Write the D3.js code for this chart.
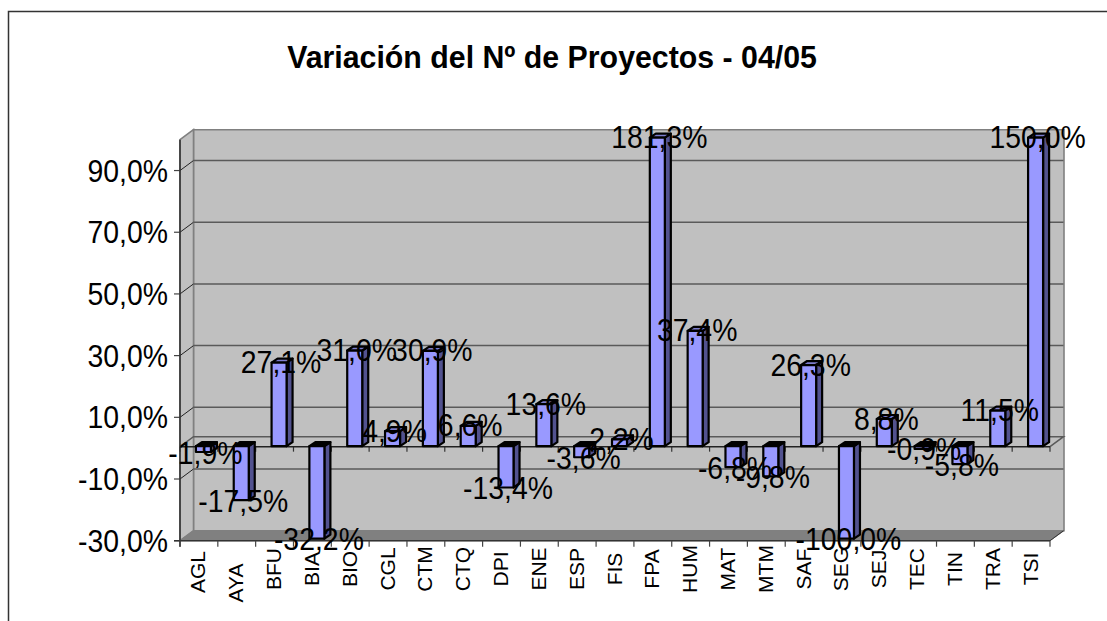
<!DOCTYPE html>
<html><head><meta charset="utf-8">
<script src="https://cdn.jsdelivr.net/npm/d3@7"></script>
<style>html,body{margin:0;padding:0;background:#fff}svg{display:block}text{font-family:"Liberation Sans",Arial,sans-serif;fill:#000}</style>
</head><body><svg id="c" width="1107" height="621"></svg>
<script>
const titleText = "Variación del Nº de Proyectos - 04/05";
const categories = ["AGL","AYA","BFU","BIA","BIO","CGL","CTM","CTQ","DPI","ENE","ESP","FIS","FPA","HUM","MAT","MTM","SAF","SEG","SEJ","TEC","TIN","TRA","TSI"];
const values = [-1.9,-17.5,27.1,-32.2,31.0,4.9,30.9,6.6,-13.4,13.6,-3.6,2.2,181.3,37.4,-6.8,-9.8,26.3,-100.0,8.8,-0.9,-5.8,11.5,150.0];
const yTicks = [-30,-10,10,30,50,70,90];
const yDomain = [-30,100];
const labelNudge = {AGL:3, AYA:14};

const svg = d3.select("#c");
const L=180,R=1050,B=540.7,T=139.7,DX=13.5,DY=10;
const x = d3.scaleBand().domain(categories).range([L,R]);
const y = d3.scaleLinear().domain(yDomain).range([B,T]);
const fmt = v => v.toFixed(1).replace(".",",")+"%";
const clamp = v => Math.max(yDomain[0],Math.min(yDomain[1],v));
const line = d3.line();
const tall=(px,py,anchor,size,sx)=>svg.append("text").attr("transform",`translate(${px},${py}) scale(${sx},1)`).attr("text-anchor",anchor).attr("font-size",size);

// frame (open on the right and bottom: it runs off the picture)
svg.append("path").attr("d","M8.5 640V11.5H1120").attr("fill","none").attr("stroke","#333").attr("stroke-width",1.5);
// title
tall(552,67.5,"middle",32,0.947).attr("font-weight","bold").text(titleText);

// walls
const poly=(pts,fill,stroke,sw)=>svg.append("path").attr("d",line(pts)+"Z").attr("fill",fill).attr("stroke",stroke||"none").attr("stroke-width",sw||0);
poly([[L+DX,T-DY],[R+DX+.5,T-DY],[R+DX+.5,B-DY],[L+DX,B-DY]],"#c0c0c0","#808080",1.6);
poly([[L,T],[L+DX,T-DY],[L+DX,B-DY],[L,B]],"#c0c0c0","#808080",1.6);
poly([[L,B],[L+DX,B-DY],[R+DX+.5,B-DY],[R,B]],"#808080","#808080",1);

// gridlines + ticks
yTicks.forEach(t=>{
  const yy=y(t);
  if(t>yDomain[0]){
    svg.append("path").attr("d",line([[L,yy],[L+DX,yy-DY]])).attr("fill","none").attr("stroke","#222").attr("stroke-width",1);
    svg.append("path").attr("d",line([[L+DX,yy-DY],[R+DX,yy-DY]])).attr("fill","none").attr("stroke","#5a5a5a").attr("stroke-width",1.5);
  }
  svg.append("line").attr("x1",L-6).attr("x2",L).attr("y1",yy).attr("y2",yy).attr("stroke","#444").attr("stroke-width",1.2);
  tall(168,yy+11,"end",31,0.916).text(fmt(t));
});
// zero plane back edge
const y0=y(0)-1.5;
svg.append("path").attr("d",line([[L,y0],[L+DX,y0-DY],[R+DX,y0-DY],[R,y0]])).attr("fill","none").attr("stroke","#5a5a5a").attr("stroke-width",1.5);

// axes
svg.append("line").attr("x1",L).attr("x2",L).attr("y1",T).attr("y2",B+6).attr("stroke","#333").attr("stroke-width",1.6);
svg.append("line").attr("x1",L-6).attr("x2",R).attr("y1",B).attr("y2",B).attr("stroke","#333").attr("stroke-width",1.5);
svg.append("path").attr("d",line([[R,B],[R+DX,B-DY]])).attr("stroke","#333").attr("fill","none");

const edge=categories.map(c=>x(c)).concat([R]);
edge.forEach(e=>{
  svg.append("line").attr("x1",e).attr("x2",e).attr("y1",B).attr("y2",B+6).attr("stroke","#444").attr("stroke-width",1.2);
  svg.append("line").attr("x1",e).attr("x2",e).attr("y1",y0).attr("y2",y0+5).attr("stroke","#333").attr("stroke-width",1.2);
});
svg.append("line").attr("x1",L).attr("x2",R).attr("y1",y0).attr("y2",y0).attr("stroke","#222").attr("stroke-width",1.5);

// bars
const bw=15,dx=6,dy=4,OFFX=-3,OFFY=-2;
const barsG=svg.append("g").attr("stroke","#000").attr("stroke-width",2.2).attr("stroke-linejoin","round");
categories.forEach((c,i)=>{
  const v=clamp(values[i]);
  const x0=x(c)+x.bandwidth()/2+OFFX, x1=x0+bw;
  const a=y(0)+OFFY, b=y(v)+OFFY;
  const top=Math.min(a,b), bot=Math.max(a,b);
  barsG.append("path").attr("d",line([[x1,top],[x1+dx,top-dy],[x1+dx,bot-dy],[x1,bot]])+"Z").attr("fill","#52528f");
  barsG.append("path").attr("d",line([[x0,top],[x0+dx,top-dy],[x1+dx,top-dy],[x1,top]])+"Z").attr("fill",values[i]<0?"#000":"#7c7ccc");
  barsG.append("path").attr("d",line([[x0,top],[x1,top],[x1,bot],[x0,bot]])+"Z").attr("fill","#9999ff");
});

// category labels
categories.forEach(c=>{
  const cx=x(c)+x.bandwidth()/2;
  svg.append("text").attr("transform",`translate(${cx+6.5},${569+(labelNudge[c]||0)}) rotate(-90)`).attr("text-anchor","middle").attr("font-size",21).text(c);
});
// data labels
categories.forEach((c,i)=>{
  const v=clamp(values[i]);
  tall(x(c)+x.bandwidth()/2+6.5,y(v)-2+(values[i]<0?1:0)+10.5,"middle",31,0.916).text(fmt(values[i]));
});
</script></body></html>
